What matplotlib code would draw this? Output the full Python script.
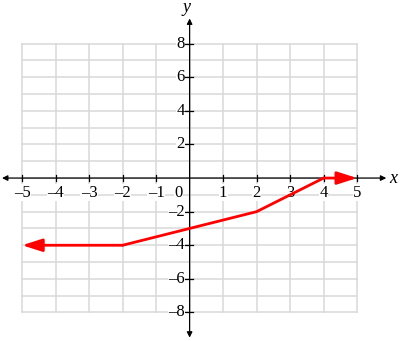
import matplotlib
matplotlib.use("Agg")
import matplotlib.pyplot as plt

plt.rcParams["font.family"] = ["Liberation Serif", "DejaVu Serif"]

# grid extent
x_ticks = [-5, -4, -3, -2, -1, 1, 2, 3, 4, 5]
y_ticks = [-8, -6, -4, -2, 2, 4, 6, 8]
grid_x = list(range(-5, 6))
grid_y = list(range(-8, 9))

# piecewise line (arrows at both ends)
line_x = [-5, -2, 2, 4, 5]
line_y = [-4, -4, -2, 0, 0]

RED = "#ff0000"
FS = 12

fig = plt.figure(figsize=(4.0, 3.41), dpi=100)
ax = fig.add_axes([0, 0, 1, 1])
ax.set_xlim(-5.66, 6.28)
ax.set_ylim(-9.7, 10.6)
ax.axis("off")

# grid
for gx in grid_x:
    ax.plot([gx, gx], [grid_y[0], grid_y[-1]], color="#d9d9d9", lw=1.1, zorder=1)
for gy in grid_y:
    ax.plot([grid_x[0], grid_x[-1]], [gy, gy], color="#d9d9d9", lw=1.1, zorder=1)

# axes with arrows
ax.annotate("", xy=(5.87, 0), xytext=(-5.6, 0),
            arrowprops=dict(arrowstyle="<|-|>", color="black", lw=0.9,
                            mutation_scale=8, shrinkA=0, shrinkB=0), zorder=3)
ax.annotate("", xy=(0, 9.5), xytext=(0, -9.5),
            arrowprops=dict(arrowstyle="<|-|>", color="black", lw=0.9,
                            mutation_scale=8, shrinkA=0, shrinkB=0), zorder=3)

# tick marks and labels
for tx in x_ticks:
    ax.plot([tx, tx], [-0.2, 0.2], color="black", lw=0.9, zorder=3)
    lab = str(tx).replace("-", "\u2013")
    ax.text(tx, -0.4, lab, ha="center", va="top", fontsize=FS, zorder=4,
            bbox=dict(facecolor="white", edgecolor="none", pad=0.2))
for ty in y_ticks:
    ax.plot([-0.15, 0.1], [ty, ty], color="black", lw=0.9, zorder=3)
    lab = str(ty).replace("-", "\u2013")
    ax.text(-0.15, ty, lab, ha="right", va="center", fontsize=FS, zorder=4,
            bbox=dict(facecolor="white", edgecolor="none", pad=0.2))
ax.text(-0.22, -0.4, "0", ha="right", va="top", fontsize=FS, zorder=4,
        bbox=dict(facecolor="white", edgecolor="none", pad=0.2))

ax.text(6.08, 0.0, "x", ha="center", va="center", fontsize=13, style="italic")
ax.text(-0.1, 10.15, "y", ha="center", va="center", fontsize=13, style="italic")

# red function
ax.plot(line_x[1:-1], line_y[1:-1], color=RED, lw=2, zorder=5, solid_capstyle="round")
for i0, i1 in ((1, 0), (-2, -1)):
    ax.annotate("", xy=(line_x[i1], line_y[i1]), xytext=(line_x[i0], line_y[i0]),
                arrowprops=dict(arrowstyle="-|>,head_length=1.0,head_width=0.32",
                                color=RED, lw=2, mutation_scale=12,
                                shrinkA=0, shrinkB=0), zorder=5)

fig.savefig("out.png", dpi=100)
